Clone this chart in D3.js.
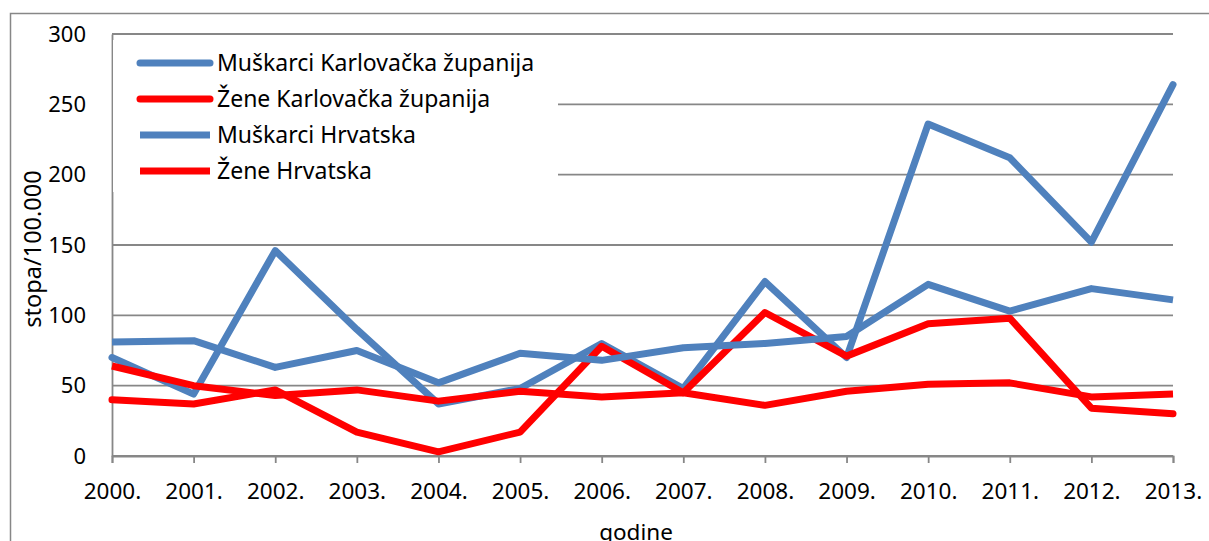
<!DOCTYPE html>
<html>
<head>
<meta charset="utf-8">
<script src="https://cdn.jsdelivr.net/npm/d3@7"></script>
<style>
  body { margin: 0; background: #fff; }
  text { font-family: "Noto Sans", sans-serif; fill: #000; }
</style>
</head>
<body>
<div id="chart"></div>
<script>
// Podaci očitani sa slike (stopa/100.000)
const godine = ["2000.", "2001.", "2002.", "2003.", "2004.", "2005.", "2006.", "2007.", "2008.", "2009.", "2010.", "2011.", "2012.", "2013."];
const muskarciKarlovacka = [70, 44, 146, 90, 37, 48, 80, 48, 124, 70, 236, 212, 152, 264];
const zeneKarlovacka = [40, 37, 47, 17, 3, 17, 78, 45, 102, 71, 94, 98, 34, 30];
const muskarciHrvatska = [81, 82, 63, 75, 52, 73, 68, 77, 80, 85, 122, 103, 119, 111];
const zeneHrvatska = [64, 50, 43, 47, 39, 46, 42, 45, 36, 46, 51, 52, 42, 44];
const yTicks = [0, 50, 100, 150, 200, 250, 300];

const serije = [
    { name: "Muškarci Karlovačka županija", values: muskarciKarlovacka, color: "#4f81bd", cap: "round" },
    { name: "Žene Karlovačka županija", values: zeneKarlovacka, color: "#ff0000", cap: "round" },
    { name: "Muškarci Hrvatska", values: muskarciHrvatska, color: "#4f81bd", cap: "butt" },
    { name: "Žene Hrvatska", values: zeneHrvatska, color: "#ff0000", cap: "butt" }
];

const width = 1209;
const height = 541;
const marginLeft = 112;
const marginRight = 36;
const marginTop = 34;
const marginBottom = 85;
const grey = "#878787";

const x = d3.scalePoint()
    .domain(godine)
    .range([marginLeft, width - marginRight]);

const y = d3.scaleLinear()
    .domain([0, 300])
    .range([height - marginBottom, marginTop]);

const svg = d3.select("#chart")
    .append("svg")
    .attr("width", width)
    .attr("height", height)
    .attr("viewBox", [0, 0, width, height]);

svg.append("rect")
    .attr("width", width)
    .attr("height", height)
    .attr("fill", "#fff");

// Okvir grafikona
svg.append("path")
    .attr("d", `M10.5,${height} V13.5 H${width}`)
    .attr("fill", "none")
    .attr("stroke", grey)
    .attr("stroke-width", 1.5);

// Mreža
svg.append("g")
    .selectAll("line")
    .data(yTicks)
    .join("line")
    .attr("x1", marginLeft)
    .attr("x2", width - marginRight)
    .attr("y1", d => y(d))
    .attr("y2", d => y(d))
    .attr("stroke", grey)
    .attr("stroke-width", 1.8);

// Os y
svg.append("g")
    .attr("transform", `translate(${marginLeft},0)`)
    .call(d3.axisLeft(y).tickValues(yTicks).tickSize(0).tickPadding(26))
    .call(g => g.select(".domain").attr("stroke", grey).attr("stroke-width", 1.8))
    .call(g => g.selectAll("text").attr("font-size", 22).attr("font-family", "Noto Sans"));

// Os x
svg.append("g")
    .attr("transform", `translate(0,${y(0)})`)
    .call(d3.axisBottom(x).tickSize(7).tickPadding(20).tickSizeOuter(7))
    .call(g => g.select(".domain").attr("stroke", grey).attr("stroke-width", 1.8))
    .call(g => g.selectAll(".tick line").attr("stroke", grey).attr("stroke-width", 1.8))
    .call(g => g.selectAll("text").attr("font-size", 22.5).attr("font-family", "Noto Sans"));

// Linije
const line = d3.line()
    .x((d, i) => x(godine[i]))
    .y(d => y(d));

svg.append("g")
    .selectAll("path")
    .data(serije)
    .join("path")
    .attr("fill", "none")
    .attr("stroke", d => d.color)
    .attr("stroke-width", 7)
    .attr("stroke-linejoin", "round")
    .attr("stroke-linecap", d => d.cap)
    .attr("d", d => line(d.values));

// Legenda
const legend = svg.append("g");

legend.append("rect")
    .attr("x", marginLeft + 1)
    .attr("y", 40)
    .attr("width", 445)
    .attr("height", 152)
    .attr("fill", "#fff");

const stavke = legend.selectAll("g")
    .data(serije)
    .join("g")
    .attr("transform", (d, i) => `translate(140,${63 + i * 36})`);

stavke.append("line")
    .attr("x1", 0)
    .attr("x2", 70)
    .attr("stroke", d => d.color)
    .attr("stroke-width", 7)
    .attr("stroke-linecap", d => d.cap);

stavke.append("text")
    .attr("x", 77)
    .attr("dy", "0.35em")
    .attr("font-size", 23)
    .text(d => d.name);

// Naslovi osi
svg.append("text")
    .attr("transform", `translate(41,${(y(0) + y(300)) / 2 + 4}) rotate(-90)`)
    .attr("text-anchor", "middle")
    .attr("font-size", 23.5)
    .text("stopa/100.000");

svg.append("text")
    .attr("x", 636)
    .attr("y", 540)
    .attr("text-anchor", "middle")
    .attr("font-size", 22.5)
    .text("godine");
</script>
</body>
</html>
